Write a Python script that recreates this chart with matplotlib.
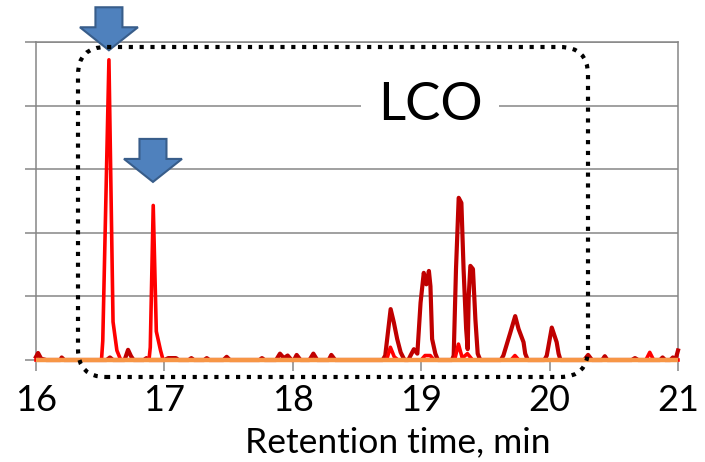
import matplotlib.pyplot as plt
from matplotlib.patches import FancyBboxPatch, Polygon
from matplotlib.transforms import ScaledTranslation

plt.rcParams['font.family'] = ['Lato', 'DejaVu Sans']

# chromatogram traces: retention time (min) vs detector signal
time_dark = [16.00, 16.016, 16.04, 16.08, 16.19, 16.20, 16.22, 16.55, 16.576, 16.60,
             16.69, 16.717, 16.74, 16.76, 16.84, 16.86, 16.88, 17.00, 17.03, 17.09,
             17.11, 17.19, 17.21, 17.23, 17.31, 17.33, 17.35, 17.46, 17.485, 17.51,
             17.74, 17.76, 17.78, 17.87, 17.90, 17.93, 17.96, 17.99, 18.01, 18.03,
             18.06, 18.13, 18.16, 18.19, 18.28, 18.30, 18.33, 18.70, 18.72, 18.762,
             18.787, 18.813, 18.84, 18.87, 18.90, 18.917, 18.943, 18.97, 18.995, 19.02,
             19.04, 19.06, 19.072, 19.085, 19.11, 19.13, 19.24, 19.253, 19.271, 19.292,
             19.313, 19.33, 19.35, 19.362, 19.37, 19.383, 19.403, 19.422, 19.44, 19.46,
             19.62, 19.64, 19.694, 19.732, 19.758, 19.797, 19.81, 19.83, 19.96, 19.978,
             20.017, 20.055, 20.07, 20.085, 20.27, 20.30, 20.33, 20.41, 20.43, 20.45,
             20.64, 20.665, 20.69, 20.86, 20.88, 20.90, 20.94, 20.96, 20.98, 21.00]
signal_dark = [0.05, 0.11, 0.02, 0, 0, 0.04, 0, 0, 0.04, 0,
               0, 0.16, 0.06, 0, 0, 0.03, 0, 0, 0.03, 0.03,
               0, 0, 0.03, 0, 0, 0.03, 0, 0, 0.05, 0,
               0, 0.03, 0, 0, 0.10, 0.03, 0.07, 0, 0, 0.08,
               0, 0, 0.10, 0, 0, 0.08, 0, 0, 0.07, 0.80,
               0.59, 0.33, 0.12, 0, 0, 0.07, 0.17, 0.10, 0.90, 1.37,
               1.19, 1.40, 1.16, 0.33, 0.10, 0, 0, 0.07, 1.43, 2.55,
               2.47, 1.43, 0.49, 0.17, 1.00, 1.48, 1.43, 0.64, 0.10, 0,
               0, 0.07, 0.43, 0.69, 0.49, 0.28, 0.10, 0, 0, 0.07,
               0.51, 0.28, 0.10, 0, 0, 0.08, 0, 0, 0.06, 0,
               0, 0.03, 0, 0, 0.04, 0, 0, 0.04, 0, 0.15]

time_red = [16.00, 16.51, 16.52, 16.568, 16.60, 16.63, 16.66, 16.88, 16.89, 16.913,
            16.937, 16.97, 16.99, 18.73, 18.76, 18.79, 18.82, 19.00, 19.03, 19.07,
            19.10, 19.26, 19.29, 19.32, 19.36, 19.40, 19.70, 19.73, 19.76, 20.75,
            20.78, 20.81, 21.00]
signal_red = [0, 0, 0.30, 4.72, 0.60, 0.15, 0, 0, 0.20, 2.43,
              0.45, 0.15, 0, 0, 0.20, 0.05, 0, 0, 0.07, 0.07,
              0, 0, 0.25, 0.03, 0.10, 0, 0, 0.07, 0, 0,
              0.12, 0, 0]

time_base = [16.0, 21.0]
signal_base = [0.0, 0.0]

x_ticks = [16, 17, 18, 19, 20, 21]
y_grid = [0, 1, 2, 3, 4, 5]

# arrow tips above the two marked peaks
arrow_tips = [(16.568, 4.87), (16.911, 2.80)]

grey = '#868686'

fig = plt.figure(figsize=(7.05, 4.62), dpi=100)
ax = fig.add_axes([36 / 705, 1 - 360 / 462, 642 / 705, 318 / 462])

ax.plot(time_dark, signal_dark, color='#C00000', lw=3.0, clip_on=False, zorder=3)
ax.plot(time_red, signal_red, color='#FF0000', lw=2.6, clip_on=False, zorder=4)
ax.plot(time_base, signal_base, color='#F79646', lw=3.2, clip_on=False, zorder=5,
        solid_capstyle='butt')

ax.set_xlim(16, 21)
ax.set_ylim(0, 5)
ax.set_xticks(x_ticks)
ax.set_yticks(y_grid)
ax.set_yticklabels([])
ax.tick_params(axis='x', direction='out', length=8, width=1.1, color=grey,
               labelsize=26, pad=9)
ax.tick_params(axis='y', direction='out', length=8, width=1.1, color=grey)
ax.grid(axis='y', color=grey, lw=1.1)
ax.set_axisbelow(True)
for side in ['left', 'right', 'top', 'bottom']:
    ax.spines[side].set_color(grey)
    ax.spines[side].set_linewidth(1.1)

fig.text(398 / 705, 1 - 442 / 462, 'Retention time, min', fontsize=25.5,
         ha='center', va='center')

ax.text(19.07, 4.0, 'LCO', fontsize=38, ha='center', va='center', zorder=6,
        bbox=dict(fc='white', ec='none', pad=12))

# dotted rounded frame around the LCO region
frame = FancyBboxPatch((0.78, 0.85), 5.10, 3.30,
                       boxstyle='round,pad=0,rounding_size=0.28',
                       transform=fig.dpi_scale_trans, fill=False, ec='black',
                       lw=3, ls=(0, (1, 1.6)), zorder=10)
fig.add_artist(frame)

# block arrows pointing at peaks, shape in inches from the tip
arrow_shape = [(0, 0), (-0.29, 0.23), (-0.135, 0.23), (-0.135, 0.43),
               (0.135, 0.43), (0.135, 0.23), (0.29, 0.23)]
for t, s in arrow_tips:
    trans = fig.dpi_scale_trans + ScaledTranslation(t, s, ax.transData)
    ax.add_patch(Polygon(arrow_shape, closed=True, transform=trans,
                         fc='#4F81BD', ec='#385D8A', lw=1.5,
                         clip_on=False, zorder=11))

ax.set_xlim(16, 21)
ax.set_ylim(0, 5)

fig.savefig('out.png', dpi=100)
